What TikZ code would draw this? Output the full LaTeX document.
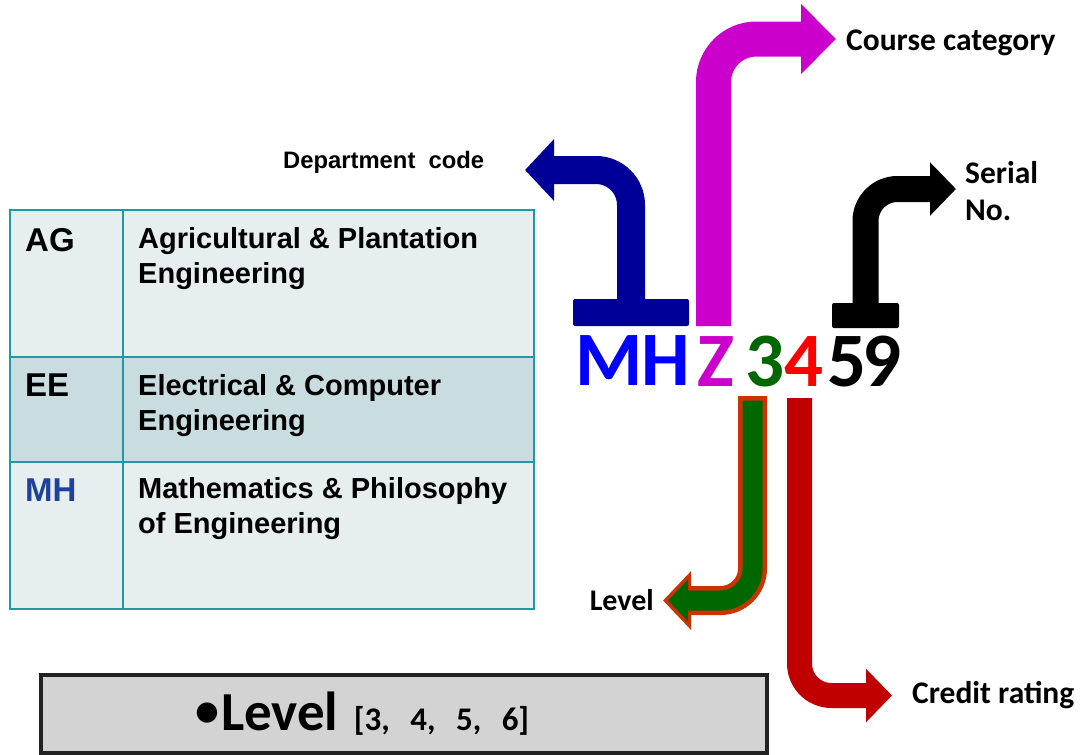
\documentclass[tikz,border=0pt]{standalone}
\usepackage{fontspec}
\setmainfont{Carlito}
\newfontfamily\arialfont{Liberation Sans}
\usetikzlibrary{arrows.meta,positioning}

\definecolor{deptnavy}{RGB}{0,0,153}
\definecolor{catmagenta}{RGB}{204,0,204}
\definecolor{lvlgreen}{RGB}{0,102,0}
\definecolor{lvledge}{RGB}{204,51,0}
\definecolor{creditred}{RGB}{192,0,0}
\definecolor{mhblue}{RGB}{30,65,155}
\definecolor{tealline}{RGB}{28,154,166}
\definecolor{rowlight}{RGB}{230,238,240}
\definecolor{rowdark}{RGB}{201,221,225}

\begin{document}
\begin{tikzpicture}[%
    x=1pt,
    y=-1pt,
    codechar/.style={%
      anchor=base,
      inner sep=0pt,
      font=\fontsize{77}{77}\selectfont\bfseries
    },
    tag/.style={%
      inner sep=0pt,
      align=left,
      font=\fontsize{31.5}{37}\selectfont\bfseries
    },
    cell/.style={%
      anchor=north west,
      inner sep=0pt,
      align=left,
      font=\arialfont\fontsize{29}{35}\selectfont\bfseries
    },
    deptcell/.style={%
      anchor=north west,
      inner sep=0pt,
      font=\arialfont\fontsize{33}{35}\selectfont\bfseries
    },
    tbar/.style={%
      rectangle,
      rounded corners=2pt,
      inner sep=0pt
    }
  ]
    \useasboundingbox (0,0) rectangle (1085,755);

    % department table
    \fill[rowlight] (10,210) rectangle (534,357);
    \fill[rowdark]  (10,357) rectangle (534,462);
    \fill[rowlight] (10,462) rectangle (534,609);
    \draw[tealline, line width=2.5pt] (10,210) rectangle (534,609)
          (123,210) -- (123,609)
          (10,357) -- (534,357)
          (10,462) -- (534,462);

    \node[deptcell] (agcode) at (25,228) {AG};
    \node[cell] (agname) at (138,227) {Agricultural \& Plantation\\Engineering};
    \node[deptcell] (eecode) at (25,374) {EE};
    \node[cell] (eename) at (138,374) {Electrical \& Computer\\Engineering};
    \node[deptcell, text=mhblue] (mhcode) at (25,479) {MH};
    \node[cell] (mhname) at (138,477) {Mathematics \& Philosophy\\of Engineering};

    % course code
    \node[codechar, text=blue]       (m)    at (609,385)   {M};
    \node[codechar, text=blue]       (h)    at (666,385)   {H};
    \node[codechar, text=catmagenta] (z)    at (715.5,386) {Z};
    \node[codechar, text=lvlgreen]   (three) at (765.5,386) {3};
    \node[codechar, text=red]        (four) at (804.5,386) {4};
    \node[codechar]                  (five) at (847,386)   {5};
    \node[codechar]                  (nine) at (882.5,386) {9};

    \node[tbar, fill=deptnavy, minimum width=116pt, minimum height=27pt] (deptbar) at (631,312.5) {};
    \node[tbar, fill=black, minimum width=67pt, minimum height=25pt] (serialbar) at (865.5,315.5) {};

    % labels
    \node[font=\arialfont\fontsize{23.8}{24}\selectfont\bfseries, anchor=base west, inner sep=0pt]
          (dept) at (283,168) {Department\ \ code};
    \node[tag, anchor=base west] (cat) at (846,50) {Course category};
    \node[tag, anchor=north west] (serial) at (965,161) {Serial\\No.};
    \node[tag, anchor=base east, font=\fontsize{30}{30}\selectfont\bfseries] (lvl) at (654,610) {Level};
    \node[tag, anchor=base west] (credit) at (912,703) {Credit rating};

    \coordinate (depttip)   at (525,170);
    \coordinate (catfoot)   at (713.5,326);
    \coordinate (cattip)    at (836,39);
    \coordinate (serialtip) at (956,189);
    \coordinate (lvlfoot)   at (752.5,396);
    \coordinate (lvltip)    at (663,600.5);
    \coordinate (creditfoot) at (799.5,398);
    \coordinate (credittip) at (892,695.5);

    % bent arrows
    \draw[deptnavy, line width=28pt, rounded corners=35pt, -{Triangle[length=29pt,width=60pt]}]
          (deptbar.north) |- (depttip);
    \draw[catmagenta, line width=35pt, rounded corners=43pt, -{Triangle[length=35pt,width=68pt]}]
          (catfoot) |- (cattip);
    \draw[black, line width=26pt, rounded corners=32pt, -{Triangle[length=26pt,width=52pt]}]
          (serialbar.north) |- (serialtip);
    \draw[lvledge, line width=29pt, rounded corners=32pt, -{Triangle[length=28pt,width=57pt]}]
          (lvlfoot) |- (lvltip);
    \draw[lvlgreen, line width=20pt, rounded corners=32pt, -{Triangle[length=20pt,width=41pt]}]
          ([yshift=-4.5pt]lvlfoot) |- ([xshift=5pt]lvltip);
    \draw[creditred, line width=25pt, rounded corners=32pt, -{Triangle[length=26pt,width=52pt]}]
          (creditfoot) |- (credittip);

    % level box
    \draw[fill={rgb,255:red,211;green,211;blue,211}, draw={rgb,255:red,34;green,34;blue,34}, line width=4pt]
          (41,675) rectangle (767,753);
    \node[anchor=base west, inner sep=0pt] (levels) at (195,730)
          {\fontsize{55}{55}\selectfont\bfseries\raisebox{3.5pt}{\fontsize{48}{48}\selectfont•}\hspace{2pt}Level\hspace{3pt}\ \fontsize{33}{33}\selectfont[3,\hspace{13pt} 4,\hspace{13pt} 5,\hspace{13pt} 6]};
\end{tikzpicture}
\end{document}
